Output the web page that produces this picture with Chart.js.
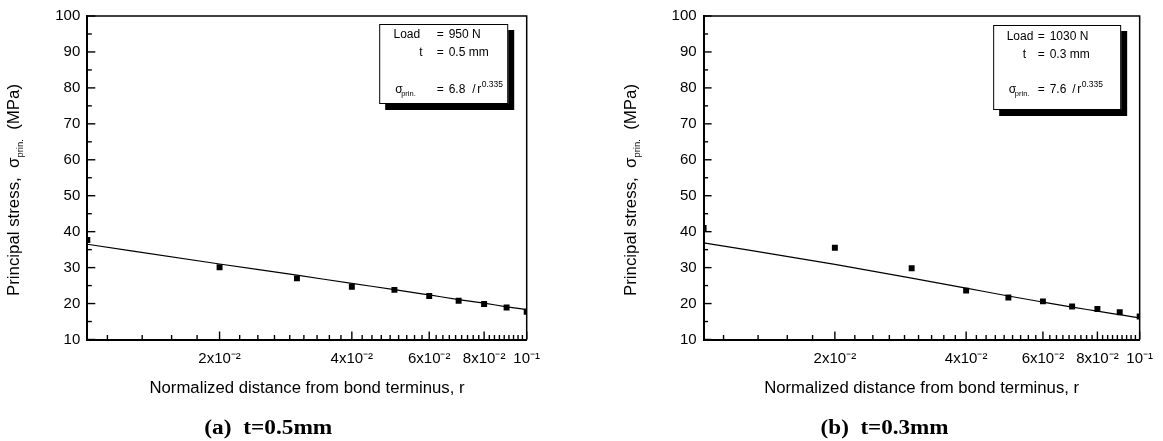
<!DOCTYPE html>
<html><head><meta charset="utf-8">
<script src="https://cdn.jsdelivr.net/npm/chart.js@4/dist/chart.umd.min.js"></script>
<style>
html,body{margin:0;padding:0;background:#fff;width:1163px;height:441px;overflow:hidden}
.p{position:absolute;top:0;height:441px}
#wa{left:0;width:581px}
#wb{left:581px;width:582px}
</style></head><body>
<div class="p" id="wa"><canvas id="ca"></canvas></div>
<div class="p" id="wb"><canvas id="cb"></canvas></div>
<script>
// ---- data ----
const distances = [0.01, 0.02, 0.03, 0.04, 0.05, 0.06, 0.07, 0.08, 0.09, 0.10];
const stressA = [37.7, 30.1, 27.0, 24.7, 23.8, 22.1, 20.8, 19.9, 18.9, 17.7];
const fitA    = [36.5, 31.0, 27.9, 25.6, 23.9, 22.4, 21.1, 20.1, 19.1, 18.3];
const stressB = [41.0, 35.5, 29.8, 23.6, 21.7, 20.6, 19.2, 18.5, 17.6, 16.4];
const fitB    = [36.9, 30.9, 27.1, 24.3, 22.1, 20.4, 19.0, 17.9, 16.9, 16.0];
const xTickValues = [0.02, 0.04, 0.06, 0.08, 0.1];
const xTickLabels = ['2x10\u207B\u00B2', '4x10\u207B\u00B2', '6x10\u207B\u00B2', '8x10\u207B\u00B2', '10\u207B\u00B9'];
const yTickValues = [10, 20, 30, 40, 50, 60, 70, 80, 90, 100];
const yTickLabels = ['10', '20', '30', '40', '50', '60', '70', '80', '90', '100'];
const xTitle = 'Normalized distance from bond terminus, r';
const yTitleParts = ['Principal stress,  \u03C3', 'prin.', '  (MPa)'];
const captionA = '(a)  t=0.5mm';
const captionB = '(b)  t=0.3mm';
const loadA = '950 N', thickA = '0.5 mm', coefA = '6.8', expA = '0.335';
const loadB = '1030 N', thickB = '0.3 mm', coefB = '7.6', expB = '0.335';

const SANS = '"Liberation Sans", Arial, Helvetica, sans-serif';
const SERIF = '"Liberation Serif", "Times New Roman", serif';

function stretchText(ctx, text, x, y, font, targetW, align) {
  ctx.save();
  ctx.font = font;
  const w = ctx.measureText(text).width;
  const sx = targetW ? targetW / w : 1;
  ctx.translate(x, y);
  ctx.scale(sx, 1);
  ctx.textAlign = align || 'left';
  ctx.textBaseline = 'alphabetic';
  ctx.fillText(text, 0, 0);
  ctx.restore();
}
function txt(ctx, text, x, y, font) {
  ctx.font = font; ctx.textAlign = 'left'; ctx.textBaseline = 'alphabetic';
  ctx.fillText(text, x, y);
}

function decoPlugin(panel) {
  return {
    id: 'deco' + panel.name,
    afterDraw(chart) {
      const ctx = chart.ctx, a = chart.chartArea;
      const xs = chart.scales.x, ys = chart.scales.y;
      ctx.save();
      ctx.fillStyle = '#000';
      ctx.strokeStyle = '#000';
      // frame top & right
      ctx.lineWidth = 1.5;
      ctx.beginPath();
      ctx.moveTo(a.left, a.top); ctx.lineTo(a.right, a.top); ctx.lineTo(a.right, a.bottom);
      ctx.stroke();
      // inward ticks on x
      ctx.lineWidth = 1.4;
      const step = 0.02 / 9;
      for (let k = -4; k <= 36; k++) {
        const v = 0.02 + k * step;
        const px = xs.getPixelForValue(v);
        const len = (k % 9 === 0) ? 8 : 4.5;
        ctx.beginPath(); ctx.moveTo(px, a.bottom); ctx.lineTo(px, a.bottom - len); ctx.stroke();
      }
      // inward ticks on y
      for (let v = 10; v <= 100; v += 5) {
        const py = ys.getPixelForValue(v);
        const len = (v % 10 === 0) ? 8 : 4.5;
        ctx.beginPath(); ctx.moveTo(a.left, py); ctx.lineTo(a.left + len, py); ctx.stroke();
      }
      // x title
      stretchText(ctx, xTitle, (a.left + a.right) / 2, a.bottom + 53, '16px ' + SANS, 315, 'center');
      // y title (rotated, with subscript)
      ctx.save();
      ctx.translate(a.left - 68, a.top + 174);
      ctx.rotate(-Math.PI / 2);
      const f1 = '16px ' + SANS, f2 = '9px ' + SANS;
      ctx.font = f1; const w1 = ctx.measureText(yTitleParts[0]).width, w3 = ctx.measureText(yTitleParts[2]).width;
      ctx.font = f2; const w2 = ctx.measureText(yTitleParts[1]).width;
      const tot = w1 + w2 + w3, sx = 212 / tot;
      ctx.scale(sx, 1);
      let x0 = -tot / 2;
      txt(ctx, yTitleParts[0], x0, 0, f1);
      txt(ctx, yTitleParts[1], x0 + w1, 4, f2);
      txt(ctx, yTitleParts[2], x0 + w1 + w2, 0, f1);
      ctx.restore();
      // caption
      stretchText(ctx, panel.caption, a.left + 181, 434, 'bold 20px ' + SERIF, 128, 'center');
      // annotation box
      const b = panel.box;
      const bx = a.right - 18.5 - b.w, by = a.top + b.top;
      ctx.fillStyle = '#000';
      ctx.fillRect(bx + 6, by + 6, b.w, b.h);
      ctx.fillStyle = '#fff';
      ctx.fillRect(bx, by, b.w, b.h);
      ctx.lineWidth = 1;
      ctx.strokeStyle = '#000';
      ctx.strokeRect(bx + 0.5, by + 0.5, b.w - 1, b.h - 1);
      ctx.fillStyle = '#000';
      const F = '12px ' + SANS, FS = '7.5px ' + SANS;
      const o = b.o;
      txt(ctx, 'Load', bx + o.load, by + o.l1, F);
      txt(ctx, '=', bx + o.eq, by + o.l1, F);
      txt(ctx, panel.load, bx + o.val, by + o.l1, F);
      txt(ctx, 't', bx + o.t, by + o.l2, F);
      txt(ctx, '=', bx + o.eq, by + o.l2, F);
      txt(ctx, panel.thick, bx + o.val, by + o.l2, F);
      txt(ctx, '\u03C3', bx + o.sig, by + o.l3, F);
      txt(ctx, 'prin.', bx + o.sig + 6, by + o.l3 + 3.5, FS);
      txt(ctx, '=', bx + o.eq, by + o.l3, F);
      txt(ctx, panel.coef, bx + o.val, by + o.l3, F);
      txt(ctx, '/', bx + o.slash, by + o.l3, F);
      txt(ctx, 'r', bx + o.slash + 5, by + o.l3, F);
      txt(ctx, panel.exp, bx + o.slash + 9.5, by + o.l3 - 5.5, '8.5px ' + SANS);
      ctx.restore();
    }
  };
}

function makeChart(id, stress, fit, panel) {
  return new Chart(document.getElementById(id), {
    type: 'scatter',
    data: {
      datasets: [
        {
          type: 'line',
          data: distances.map((x, i) => ({ x: x, y: fit[i] })),
          borderColor: '#000', borderWidth: 1.2, pointRadius: 0, fill: false,
          cubicInterpolationMode: 'monotone', clip: 0, order: 2
        },
        {
          data: distances.map((x, i) => ({ x: x, y: stress[i] })),
          pointStyle: 'rect', pointRadius: 4.2, pointHoverRadius: 4.2,
          backgroundColor: '#000', borderColor: '#000', borderWidth: 0,
          showLine: false, clip: { left: 0, right: 0, top: false, bottom: false }, order: 1
        }
      ]
    },
    options: {
      responsive: true, maintainAspectRatio: false, animation: false, events: [],
      layout: { padding: { left: panel.padL, right: panel.padR, top: 15, bottom: 0 } },
      plugins: { legend: { display: false }, tooltip: { enabled: false } },
      scales: {
        x: {
          type: 'logarithmic', min: 0.01, max: 0.1,
          grid: { display: false, drawTicks: false },
          border: { display: true, color: '#000', width: 2 },
          afterBuildTicks: s => { s.ticks = xTickValues.map(v => ({ value: v })); },
          afterFit: s => { s.height = 101.5; },
          ticks: {
            autoSkip: false, maxRotation: 0, minRotation: 0, padding: 10, color: '#000',
            font: { family: SANS, size: 15 },
            callback: (v) => {
              const i = xTickValues.findIndex(t => Math.abs(t - v) < 1e-9);
              return i >= 0 ? xTickLabels[i] : '';
            }
          }
        },
        y: {
          min: 10, max: 100,
          grid: { display: false, drawTicks: false },
          border: { display: true, color: '#000', width: 2 },
          afterBuildTicks: s => { s.ticks = yTickValues.map(v => ({ value: v })); },
          afterFit: s => { s.width = 87.3; },
          ticks: {
            padding: 7, color: '#000', font: { family: SANS, size: 15 },
            callback: (v) => {
              const i = yTickValues.indexOf(v);
              return i >= 0 ? yTickLabels[i] : '';
            }
          }
        }
      }
    },
    plugins: [decoPlugin(panel)]
  });
}

makeChart('ca', stressA, fitA, {
  name: 'A', padL: 0, padR: 54.3, caption: captionA,
  load: loadA, thick: thickA, coef: coefA, exp: expA,
  box: { w: 129, h: 80, top: 8, o: { load: 14.3, t: 40, sig: 16, eq: 57.5, val: 69.5, slash: 93, l1: 14.3, l2: 32, l3: 68.7 } }
});
makeChart('cb', stressB, fitB, {
  name: 'B', padL: 35.3, padR: 19.7, caption: captionB,
  load: loadB, thick: thickB, coef: coefB, exp: expB,
  box: { w: 128, h: 85, top: 9, o: { load: 13.5, t: 29.7, sig: 15.7, eq: 44.5, val: 56.5, slash: 79, l1: 15.3, l2: 32.7, l3: 67.7 } }
});
</script>
</body></html>
